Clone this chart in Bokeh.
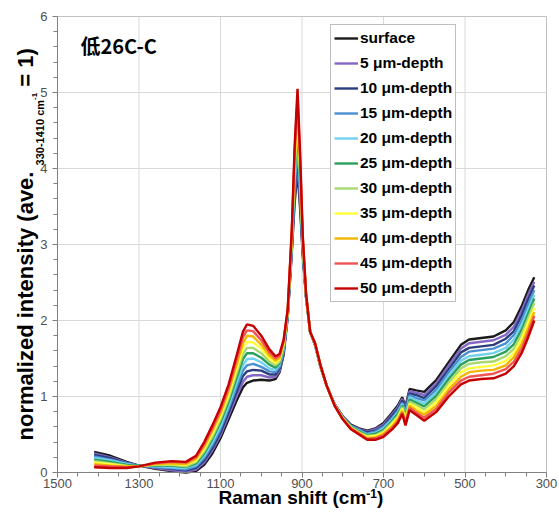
import math
from bokeh.plotting import figure
from bokeh.models import (Range1d, FixedTicker, Label, Legend, LegendItem, BoxAnnotation)
from bokeh.embed import file_html
from bokeh.resources import INLINE

# ---------------- data ----------------
shift = [1410, 1370, 1330, 1300, 1260, 1220, 1185, 1160, 1140, 1120, 1100, 1080,
         1060, 1045, 1035, 1020, 1000, 980, 965, 955, 945, 935, 925, 918, 911,
         905, 898, 890, 880, 868, 855, 840, 820, 800, 780, 760, 740, 720, 700,
         680, 665, 654, 646, 636, 620, 600, 570, 540, 510, 490, 460, 430, 400,
         380, 360, 345, 330]

surface = [.27, .22, .14, .09, .05, .02, .00, .02, .10, .25, .45, .70, .95, 1.12, 1.18, 1.21, 1.22, 1.21, 1.23, 1.32, 1.55, 2.05, 2.90, 3.55, 3.97, 3.50, 2.85, 2.30, 1.85, 1.68, 1.40, 1.15, .90, .74, .63, .58, .55, .58, .65, .78, .88, .99, .87, 1.10, 1.08, 1.06, 1.22, 1.45, 1.68, 1.75, 1.77, 1.79, 1.87, 1.98, 2.20, 2.40, 2.57]
d5 = [.25, .20, .13, .09, .06, .03, .01, .04, .13, .29, .49, .75, 1.01, 1.19, 1.26, 1.28, 1.28, 1.25, 1.26, 1.34, 1.57, 2.06, 2.93, 3.63, 4.08, 3.58, 2.88, 2.31, 1.85, 1.68, 1.40, 1.15, .90, .74, .62, .57, .54, .57, .63, .76, .86, .97, .85, 1.07, 1.05, 1.02, 1.18, 1.41, 1.63, 1.70, 1.72, 1.74, 1.81, 1.92, 2.14, 2.34, 2.51]
d10 = [.23, .19, .12, .09, .07, .05, .03, .06, .16, .32, .53, .79, 1.07, 1.27, 1.33, 1.35, 1.34, 1.29, 1.29, 1.37, 1.59, 2.07, 2.96, 3.70, 4.19, 3.65, 2.90, 2.31, 1.85, 1.68, 1.40, 1.15, .90, .73, .62, .56, .53, .55, .61, .74, .83, .95, .82, 1.04, 1.02, .98, 1.14, 1.36, 1.58, 1.64, 1.66, 1.68, 1.76, 1.86, 2.08, 2.28, 2.46]
d15 = [.21, .17, .12, .09, .07, .06, .04, .08, .19, .36, .57, .84, 1.13, 1.34, 1.41, 1.43, 1.39, 1.33, 1.32, 1.39, 1.61, 2.08, 2.99, 3.78, 4.29, 3.73, 2.93, 2.32, 1.85, 1.69, 1.41, 1.15, .89, .73, .61, .56, .51, .54, .60, .71, .81, .92, .80, 1.02, .98, .95, 1.09, 1.32, 1.52, 1.59, 1.61, 1.63, 1.70, 1.81, 2.01, 2.21, 2.40]
d20 = [.19, .16, .11, .09, .08, .07, .06, .10, .22, .40, .61, .88, 1.19, 1.41, 1.49, 1.50, 1.45, 1.37, 1.35, 1.42, 1.63, 2.09, 3.02, 3.85, 4.40, 3.80, 2.95, 2.32, 1.85, 1.69, 1.41, 1.15, .89, .72, .61, .55, .50, .52, .58, .69, .79, .90, .77, .99, .95, .91, 1.05, 1.27, 1.47, 1.53, 1.55, 1.57, 1.64, 1.75, 1.95, 2.15, 2.34]
d25 = [.17, .14, .10, .09, .09, .09, .07, .12, .25, .44, .66, .93, 1.25, 1.49, 1.57, 1.57, 1.51, 1.42, 1.38, 1.44, 1.65, 2.10, 3.05, 3.93, 4.51, 3.88, 2.98, 2.33, 1.85, 1.69, 1.41, 1.15, .89, .72, .60, .54, .49, .51, .56, .67, .77, .88, .75, .96, .92, .87, 1.01, 1.23, 1.42, 1.48, 1.50, 1.52, 1.59, 1.69, 1.89, 2.09, 2.29]
d30 = [.15, .12, .09, .08, .10, .10, .08, .14, .28, .47, .70, .98, 1.31, 1.56, 1.64, 1.64, 1.57, 1.46, 1.41, 1.46, 1.67, 2.11, 3.08, 4.00, 4.62, 3.95, 3.00, 2.33, 1.85, 1.69, 1.41, 1.15, .89, .72, .59, .53, .48, .49, .54, .65, .74, .86, .72, .93, .89, .83, .97, 1.18, 1.37, 1.43, 1.45, 1.46, 1.53, 1.63, 1.83, 2.03, 2.23]
d35 = [.13, .11, .08, .08, .11, .11, .10, .16, .31, .51, .74, 1.02, 1.37, 1.63, 1.72, 1.71, 1.63, 1.50, 1.44, 1.49, 1.69, 2.12, 3.11, 4.08, 4.73, 4.03, 3.03, 2.34, 1.85, 1.69, 1.41, 1.15, .89, .71, .59, .52, .47, .48, .52, .63, .72, .84, .70, .90, .86, .79, .93, 1.14, 1.32, 1.37, 1.39, 1.41, 1.47, 1.57, 1.77, 1.97, 2.17]
d40 = [.11, .09, .08, .08, .11, .12, .11, .18, .34, .55, .78, 1.07, 1.43, 1.70, 1.80, 1.79, 1.68, 1.54, 1.47, 1.51, 1.71, 2.13, 3.14, 4.15, 4.83, 4.10, 3.05, 2.34, 1.85, 1.70, 1.42, 1.15, .88, .71, .58, .52, .45, .46, .51, .60, .70, .81, .67, .88, .82, .76, .88, 1.09, 1.26, 1.32, 1.34, 1.35, 1.41, 1.52, 1.70, 1.90, 2.11]
d45 = [.09, .08, .07, .08, .12, .14, .13, .20, .37, .58, .82, 1.11, 1.49, 1.78, 1.87, 1.86, 1.74, 1.58, 1.50, 1.54, 1.73, 2.14, 3.17, 4.23, 4.94, 4.18, 3.08, 2.35, 1.85, 1.70, 1.42, 1.15, .88, .70, .58, .51, .44, .45, .49, .58, .67, .79, .65, .85, .79, .72, .84, 1.05, 1.21, 1.26, 1.28, 1.30, 1.36, 1.46, 1.64, 1.84, 2.06]
d50 = [.07, .06, .06, .08, .13, .15, .14, .22, .40, .62, .86, 1.16, 1.55, 1.85, 1.95, 1.93, 1.80, 1.62, 1.53, 1.56, 1.75, 2.15, 3.20, 4.30, 5.05, 4.25, 3.10, 2.35, 1.85, 1.70, 1.42, 1.15, .88, .70, .57, .50, .43, .43, .47, .56, .65, .77, .62, .82, .76, .68, .80, 1.00, 1.16, 1.21, 1.23, 1.24, 1.30, 1.40, 1.58, 1.78, 2.00]

series_labels = ["surface", "5 μm-depth", "10 μm-depth", "15 μm-depth", "20 μm-depth",
                 "25 μm-depth", "30 μm-depth", "35 μm-depth", "40 μm-depth",
                 "45 μm-depth", "50 μm-depth"]
series_values = [surface, d5, d10, d15, d20, d25, d30, d35, d40, d45, d50]
series_colors = ["#1a1a1a", "#8468c4", "#2b3d7c", "#4a8fd0", "#72d2ee", "#2ba05c",
                 "#a8d870", "#ffff3c", "#f2b600", "#f05454", "#c40000"]

x_ticks = [1500, 1300, 1100, 900, 700, 500, 300]
x_minor = list(range(300, 1501, 50))
y_ticks = [0, 1, 2, 3, 4, 5, 6]
y_minor = [i / 5 for i in range(0, 31)]

# ---------------- layout geometry (pixels) ----------------
W, H = 559, 515
PL, PR, PT, PB = 57, 546, 16, 472          # plot-area box on the page
XMAX, XMIN, YMIN, YMAX = 1500, 300, 0, 6   # plot-area data limits

cm_px = (XMAX - XMIN) / (PR - PL)
u_px = (YMAX - YMIN) / (PB - PT)
x_rng = Range1d(XMAX + PL * cm_px, XMIN - (W - PR) * cm_px)
y_rng = Range1d(YMIN - (H - PB) * u_px, YMAX + PT * u_px)

p = figure(width=W, height=H, output_backend="svg", toolbar_location=None,
           x_range=x_rng, y_range=y_rng,
           min_border_left=0, min_border_right=0, min_border_top=0,
           min_border_bottom=0)
p.background_fill_color = "white"
p.border_fill_color = "white"
p.outline_line_color = None
p.xgrid.visible = False
p.ygrid.visible = False

# grid lines of the plot area
p.segment(x0=x_ticks, y0=[YMIN] * len(x_ticks), x1=x_ticks, y1=[YMAX] * len(x_ticks),
          line_color="#d9d9d9", line_width=1)
p.segment(x0=[XMAX] * len(y_ticks), y0=y_ticks, x1=[XMIN] * len(y_ticks), y1=y_ticks,
          line_color="#d9d9d9", line_width=1)

xa = p.xaxis[0]
ya = p.yaxis[0]
xa.fixed_location = YMIN
ya.fixed_location = XMAX
xa.bounds = (XMIN, XMAX)
ya.bounds = (YMIN, YMAX)
for ax in (xa, ya):
    ax.axis_line_color = "#7f7f7f"
    ax.major_tick_line_color = "#7f7f7f"
    ax.minor_tick_line_color = "#7f7f7f"
    ax.major_tick_in = 0
    ax.major_tick_out = 5
    ax.minor_tick_in = 0
    ax.minor_tick_out = 4
    ax.major_label_text_font = "Liberation Sans"
    ax.major_label_text_font_size = "13px"
    ax.major_label_text_color = "#505050"
xa.ticker = FixedTicker(ticks=x_ticks, minor_ticks=x_minor)
ya.ticker = FixedTicker(ticks=y_ticks, minor_ticks=y_minor)
xa.major_label_standoff = 1
ya.major_label_standoff = 5

items = []
for lab, vals, col in zip(series_labels, series_values, series_colors):
    r = p.line(shift, vals, line_color=col, line_width=2.4)
    items.append(LegendItem(label=lab, renderers=[r]))

# plot-area border
p.add_layout(BoxAnnotation(left=XMAX, right=XMIN, bottom=YMIN, top=YMAX,
                           fill_color=None, fill_alpha=0, line_color="#8c8c8c",
                           line_width=1))

legend = Legend(items=items, location=(330, H - 302), margin=0, padding=3,
                spacing=5, glyph_height=20, label_height=20, glyph_width=24,
                label_standoff=2, border_line_color="#808080",
                border_line_width=1, background_fill_color="white",
                background_fill_alpha=1.0,
                label_text_font="Liberation Sans", label_text_font_style="bold",
                label_text_font_size="15.5px", label_text_color="black")
p.add_layout(legend)

def add_text(txt, px, baseline, size, angle=0.0, font="Liberation Sans"):
    # Label anchors on the middle of the font box: shift so that `baseline` is the baseline
    off = 0.3465 * size
    if angle:
        x, y = px - off, H - baseline
    else:
        x, y = px, H - (baseline - off)
    p.add_layout(Label(x=x, y=y, x_units="screen", y_units="screen", text=txt,
                       angle=angle, text_font=font, text_font_style="bold",
                       text_font_size=f"{size}px", text_color="black",
                       text_baseline="alphabetic", text_align="left"))

# sample name
add_text("低26C-C", 80, 52, 20, font="Noto Sans CJK SC")

# y axis label (with subscript and superscript), reading upwards
ang = math.pi / 2
add_text("normalized intensity (ave.", 33, 440, 22, ang)
add_text("330-1410 cm", 43, 164.9, 11, ang)
add_text("-1", 37, 99.5, 8, ang)
add_text("= 1)", 33, 86.3, 22, ang)

# x axis label (with superscript)
add_text("Raman shift (cm", 218, 504, 19)
add_text("-1", 365.8, 497, 12)
add_text(")", 376.5, 504, 19)

open("out.html", "w").write(file_html(p, INLINE))
